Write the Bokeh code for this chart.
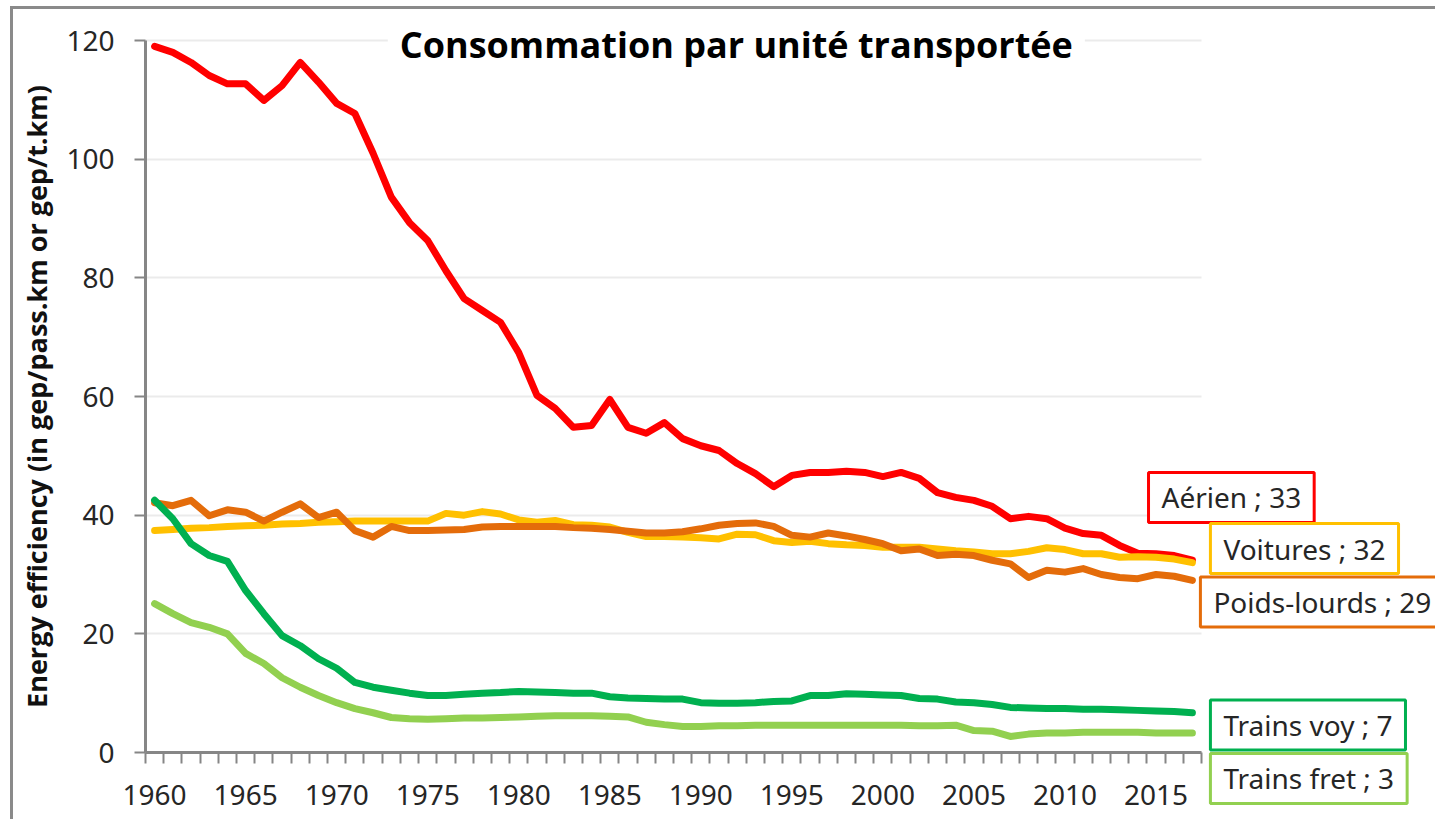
from bokeh.plotting import figure
from bokeh.models import Range1d, FixedTicker, Label, Grid
from bokeh.embed import file_html
from bokeh.resources import INLINE

years = list(range(1960, 2018))

aerien = [119.0, 118.0, 116.3, 114.1, 112.7, 112.7, 109.9, 112.4, 116.3, 113.0,
          109.4, 107.7, 101.0, 93.6, 89.3, 86.3, 81.2, 76.5, 74.5, 72.5,
          67.4, 60.2, 58.0, 54.8, 55.1, 59.5, 54.8, 53.8, 55.6, 52.9,
          51.7, 50.9, 48.7, 47.0, 44.8, 46.7, 47.2, 47.2, 47.4, 47.2,
          46.5, 47.2, 46.2, 43.8, 43.0, 42.5, 41.5, 39.4, 39.8, 39.4,
          37.8, 36.9, 36.6, 34.9, 33.6, 33.5, 33.2, 32.4]

voitures = [37.4, 37.6, 37.8, 37.9, 38.1, 38.2, 38.3, 38.5, 38.6, 38.8,
            38.9, 39.0, 39.0, 39.0, 39.0, 39.0, 40.3, 40.0, 40.6, 40.2,
            39.2, 38.8, 39.1, 38.4, 38.3, 38.0, 37.1, 36.4, 36.4, 36.3,
            36.2, 36.0, 36.8, 36.7, 35.7, 35.4, 35.6, 35.2, 35.0, 34.9,
            34.6, 34.6, 34.6, 34.3, 34.0, 33.8, 33.5, 33.5, 33.9, 34.5,
            34.2, 33.5, 33.5, 32.9, 33.0, 32.9, 32.6, 32.0]

poids_lourds = [42.1, 41.6, 42.5, 39.9, 40.9, 40.5, 39.0, 40.5, 41.9, 39.6,
                40.5, 37.4, 36.3, 38.1, 37.4, 37.4, 37.5, 37.6, 38.0, 38.1,
                38.1, 38.1, 38.1, 37.9, 37.8, 37.6, 37.3, 37.0, 37.0, 37.2,
                37.7, 38.3, 38.6, 38.7, 38.1, 36.6, 36.3, 37.0, 36.5, 35.9,
                35.2, 34.0, 34.3, 33.2, 33.4, 33.2, 32.4, 31.8, 29.5, 30.7,
                30.4, 31.0, 30.0, 29.5, 29.3, 30.0, 29.7, 29.0]

trains_voy = [42.5, 39.4, 35.2, 33.2, 32.2, 27.3, 23.4, 19.7, 18.0, 15.8,
              14.2, 11.8, 11.0, 10.5, 10.0, 9.6, 9.6, 9.8, 10.0, 10.1,
              10.3, 10.2, 10.1, 10.0, 10.0, 9.4, 9.2, 9.1, 9.0, 9.0,
              8.4, 8.3, 8.3, 8.4, 8.6, 8.7, 9.6, 9.6, 9.9, 9.8,
              9.7, 9.6, 9.1, 9.0, 8.5, 8.4, 8.1, 7.6, 7.5, 7.4,
              7.4, 7.3, 7.3, 7.2, 7.1, 7.0, 6.9, 6.7]

trains_fret = [25.1, 23.4, 21.9, 21.1, 20.0, 16.7, 15.0, 12.6, 11.0, 9.6,
               8.4, 7.4, 6.7, 5.9, 5.7, 5.6, 5.7, 5.8, 5.8, 5.9,
               6.0, 6.1, 6.2, 6.2, 6.2, 6.1, 6.0, 5.1, 4.7, 4.4,
               4.4, 4.5, 4.5, 4.6, 4.6, 4.6, 4.6, 4.6, 4.6, 4.6,
               4.6, 4.6, 4.5, 4.5, 4.6, 3.7, 3.6, 2.7, 3.1, 3.3,
               3.3, 3.4, 3.4, 3.4, 3.4, 3.3, 3.3, 3.3]

series_names = ["Aérien", "Voitures", "Poids-lourds", "Trains voy", "Trains fret"]
end_values = [33, 32, 29, 7, 3]
x_tick_labels = [1960, 1965, 1970, 1975, 1980, 1985, 1990, 1995, 2000, 2005, 2010, 2015]
y_ticks = [0, 20, 40, 60, 80, 100, 120]

colors = {"Aérien": "#FF0000", "Voitures": "#FFC000", "Poids-lourds": "#E46C0A",
          "Trains voy": "#00B050", "Trains fret": "#92D050"}
data = {"Aérien": aerien, "Voitures": voitures, "Poids-lourds": poids_lourds,
        "Trains voy": trains_voy, "Trains fret": trains_fret}

x_lo, x_hi = years[0] - 0.5, years[-1] + 0.5
y_lo, y_hi = y_ticks[0], y_ticks[-1]

# layout: figure content starts at (13, 9) in the page; the plot frame fills the
# whole canvas and both axes are drawn at fixed positions inside it.
W, H = 1425, 813
OX, OY = 13, 9
px_per_year = (1201 - 145) / (x_hi - x_lo)
px_per_unit = (752 - 40) / (y_hi - y_lo)
x_start = x_lo - (145 - OX) / px_per_year
x_end = x_lo + (OX + W - 145) / px_per_year
y_top = y_hi + (40 - OY) / px_per_unit
y_bot = y_lo - (OY + H - 752) / px_per_unit

p = figure(width=W, height=H, output_backend="svg", toolbar_location=None,
           x_range=Range1d(x_start, x_end), y_range=Range1d(y_bot, y_top),
           min_border_left=0, min_border_right=0, min_border_top=0,
           min_border_bottom=0)
p.outline_line_color = None
p.background_fill_color = "white"
p.border_fill_color = "white"
p.styles = {"margin-left": "10px", "margin-top": "6px",
            "border-left": "3px solid #8a8a8a", "border-top": "3px solid #8a8a8a"}

font = "Noto Sans"
tick_color = "#262626"
axis_color = "#868686"

# x axis (category-style: labels at centres, ticks on boundaries)
p.xaxis.fixed_location = y_lo
p.xaxis.bounds = (x_lo, x_hi)
p.xaxis.ticker = FixedTicker(ticks=x_tick_labels,
                             minor_ticks=[y - 0.5 for y in years] + [x_hi])
p.xaxis.major_tick_line_color = None
p.xaxis.major_tick_out = 0
p.xaxis.major_tick_in = 0
p.xaxis.minor_tick_line_color = axis_color
p.xaxis.minor_tick_line_width = 2
p.xaxis.minor_tick_out = 11
p.xaxis.minor_tick_in = 0
p.xaxis.axis_line_color = axis_color
p.xaxis.axis_line_width = 3
p.xaxis.major_label_text_font = font
p.xaxis.major_label_text_font_size = "28px"
p.xaxis.major_label_text_color = tick_color
p.xaxis.major_label_standoff = 21

# y axis
p.yaxis.fixed_location = x_lo
p.yaxis.bounds = (y_lo, y_hi)
p.yaxis.ticker = FixedTicker(ticks=y_ticks, minor_ticks=[])
p.yaxis.major_tick_line_color = axis_color
p.yaxis.major_tick_line_width = 2
p.yaxis.major_tick_out = 11
p.yaxis.major_tick_in = 0
p.yaxis.axis_line_color = axis_color
p.yaxis.axis_line_width = 3
p.yaxis.major_label_text_font = font
p.yaxis.major_label_text_font_size = "28px"
p.yaxis.major_label_text_color = tick_color
p.yaxis.major_label_standoff = 20
p.yaxis.axis_label = "Energy efficiency (in gep/pass.km or gep/t.km)"
p.yaxis.axis_label_text_font = "Open Sans"
p.yaxis.axis_label_text_font_style = "bold"
p.yaxis.axis_label_text_font_size = "27px"
p.yaxis.axis_label_text_color = "#111111"
p.yaxis.axis_label_standoff = 8

p.xgrid.grid_line_color = None
p.ygrid.grid_line_color = "#ebebeb"
p.ygrid.grid_line_width = 2
if "cross_bounds" in Grid.properties():
    p.ygrid.cross_bounds = (x_lo, x_hi)
else:
    p.ygrid.grid_line_color = None
    p.segment(x0=[x_lo] * len(y_ticks), x1=[x_hi] * len(y_ticks), y0=y_ticks, y1=y_ticks,
              line_color="#ebebeb", line_width=2, level="underlay")

for name in series_names:
    p.line(years, data[name], line_color=colors[name], line_width=7,
           line_join="round", line_cap="round")

# title (data coordinates, white backing hides the top grid line)
p.add_layout(Label(x=1991.95, y=119.4,
                   text="Consommation par unité transportée", text_font="Open Sans",
                   text_font_style="bold", text_font_size="36px", text_color="#000000",
                   text_align="center", text_baseline="middle",
                   background_fill_color="white",
                   padding=dict(left=12, right=12, top=2, bottom=2)))

# end labels: (box left x, centre y) in data coordinates
box_pos = {"Aérien": (2014.59, 42.98), "Voitures": (2017.99, 34.38),
           "Poids-lourds": (2017.44, 25.37), "Trains voy": (2017.99, 4.63),
           "Trains fret": (2017.99, -4.38)}
for name, v in zip(series_names, end_values):
    bx, by = box_pos[name]
    p.add_layout(Label(x=bx, y=by,
                       text=f"{name} ; {v}", text_font=font, text_font_size="28px",
                       text_color=tick_color, text_align="left", text_baseline="middle",
                       background_fill_color="white", border_line_color=colors[name],
                       border_line_width=3,
                       padding=dict(left=13, right=13, top=6, bottom=6)))

open("out.html", "w").write(file_html(p, INLINE))
